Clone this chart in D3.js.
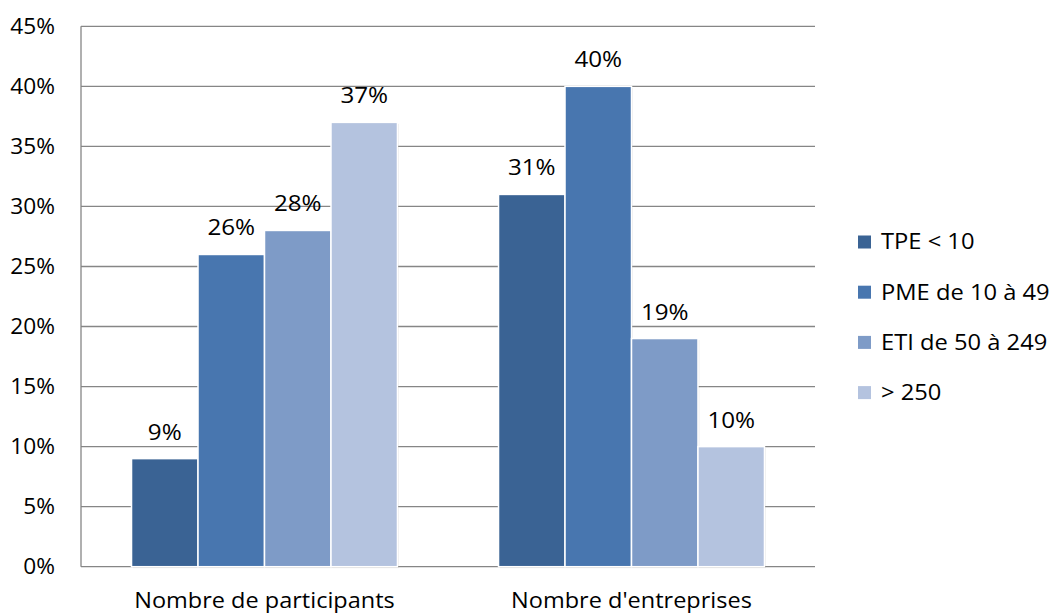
<!DOCTYPE html>
<html>
<head>
<meta charset="utf-8">
<script src="https://cdn.jsdelivr.net/npm/d3@7"></script>
<style>
  html, body { margin: 0; padding: 0; background: #fff; }
  svg text { font-family: "Open Sans", sans-serif; fill: #000; }
</style>
</head>
<body>
<svg id="chart" width="1057" height="615"></svg>
<script>
const categories = ["Nombre de participants", "Nombre d'entreprises"];
const seriesNames = ["TPE < 10", "PME de 10 à 49", "ETI de 50 à 249", "> 250"];
const participants = [9, 26, 28, 37];
const entreprises = [31, 40, 19, 10];
const yTicks = [0, 5, 10, 15, 20, 25, 30, 35, 40, 45];
const colors = ["#3A6394", "#4876AF", "#7E9BC7", "#B4C3DF"];

const values = [participants, entreprises];
const data = categories.map((c, i) => ({
  cat: c,
  vals: seriesNames.map((s, j) => ({ s, v: values[i][j], j }))
}));

const svg = d3.select("#chart");
const pLeft = 81, pRight = 815, pTop = 26.3, pBottom = 566.7;

const y = d3.scaleLinear().domain([0, 45]).range([pBottom, pTop]);
const x0 = d3.scaleBand().domain(categories).range([pLeft, pRight]).padding(0);
const x1 = d3.scaleBand().domain(seriesNames).range([0, x0.bandwidth()])
  .paddingInner(0).paddingOuter(0.76);

// gridlines
svg.append("g").selectAll("line").data(yTicks).join("line")
  .attr("x1", pLeft).attr("x2", pRight)
  .attr("y1", d => y(d)).attr("y2", d => y(d))
  .attr("stroke", "#868686").attr("stroke-width", 1.3);

// left axis line
svg.append("line").attr("x1", pLeft).attr("x2", pLeft)
  .attr("y1", pTop).attr("y2", pBottom)
  .attr("stroke", "#868686").attr("stroke-width", 1.3);

// y tick labels
svg.append("g").selectAll("text").data(yTicks).join("text")
  .attr("x", 55).attr("y", d => y(d)).attr("dy", "0.35em")
  .attr("text-anchor", "end").attr("font-size", 21)
  .attr("transform-origin", d => `55 ${y(d)}`)
  .attr("transform", "scale(1.08,1)")
  .text(d => d + "%");

// bars
const groups = svg.append("g").selectAll("g").data(data).join("g")
  .attr("transform", d => `translate(${x0(d.cat)},0)`);

groups.selectAll("rect.shadow").data(d => d.vals).join("rect")
  .attr("class", "shadow")
  .attr("x", d => x1(d.s) + 1.5).attr("y", d => y(d.v) + 1.5)
  .attr("width", x1.bandwidth()).attr("height", d => pBottom - y(d.v))
  .attr("fill", "#000").attr("opacity", 0.07);

groups.selectAll("rect.bar").data(d => d.vals).join("rect")
  .attr("class", "bar")
  .attr("x", d => x1(d.s)).attr("y", d => y(d.v))
  .attr("width", x1.bandwidth()).attr("height", d => pBottom - y(d.v))
  .attr("fill", d => colors[d.j])
  .attr("stroke", "#fff").attr("stroke-width", 1.5);

groups.selectAll("text.lbl").data(d => d.vals).join("text")
  .attr("class", "lbl")
  .attr("x", d => x1(d.s) + x1.bandwidth() / 2)
  .attr("y", d => y(d.v) - 19)
  .attr("text-anchor", "middle").attr("font-size", 22)
  .attr("transform-origin", d => `${x1(d.s) + x1.bandwidth() / 2} ${y(d.v) - 19}`)
  .attr("transform", "scale(1.1,1)")
  .text(d => d.v + "%");

// category labels
svg.append("g").selectAll("text").data(categories).join("text")
  .attr("x", d => x0(d) + x0.bandwidth() / 2).attr("y", 608)
  .attr("text-anchor", "middle").attr("font-size", 21)
  .attr("transform-origin", d => `${x0(d) + x0.bandwidth() / 2} 608`)
  .attr("transform", "scale(1.12,1)")
  .text(d => d);

// legend
const legend = svg.append("g").selectAll("g").data(seriesNames).join("g")
  .attr("transform", (d, i) => `translate(858, ${242 + i * 50.2})`);
legend.append("rect").attr("x", 0).attr("y", -6.5).attr("width", 13).attr("height", 13)
  .attr("fill", (d, i) => colors[i]);
legend.append("text").attr("x", 23).attr("y", 0).attr("dy", "0.35em")
  .attr("font-size", 21)
  .attr("transform-origin", "23 0")
  .attr("transform", "scale(1.13,1)")
  .text(d => d);
</script>
</body>
</html>
